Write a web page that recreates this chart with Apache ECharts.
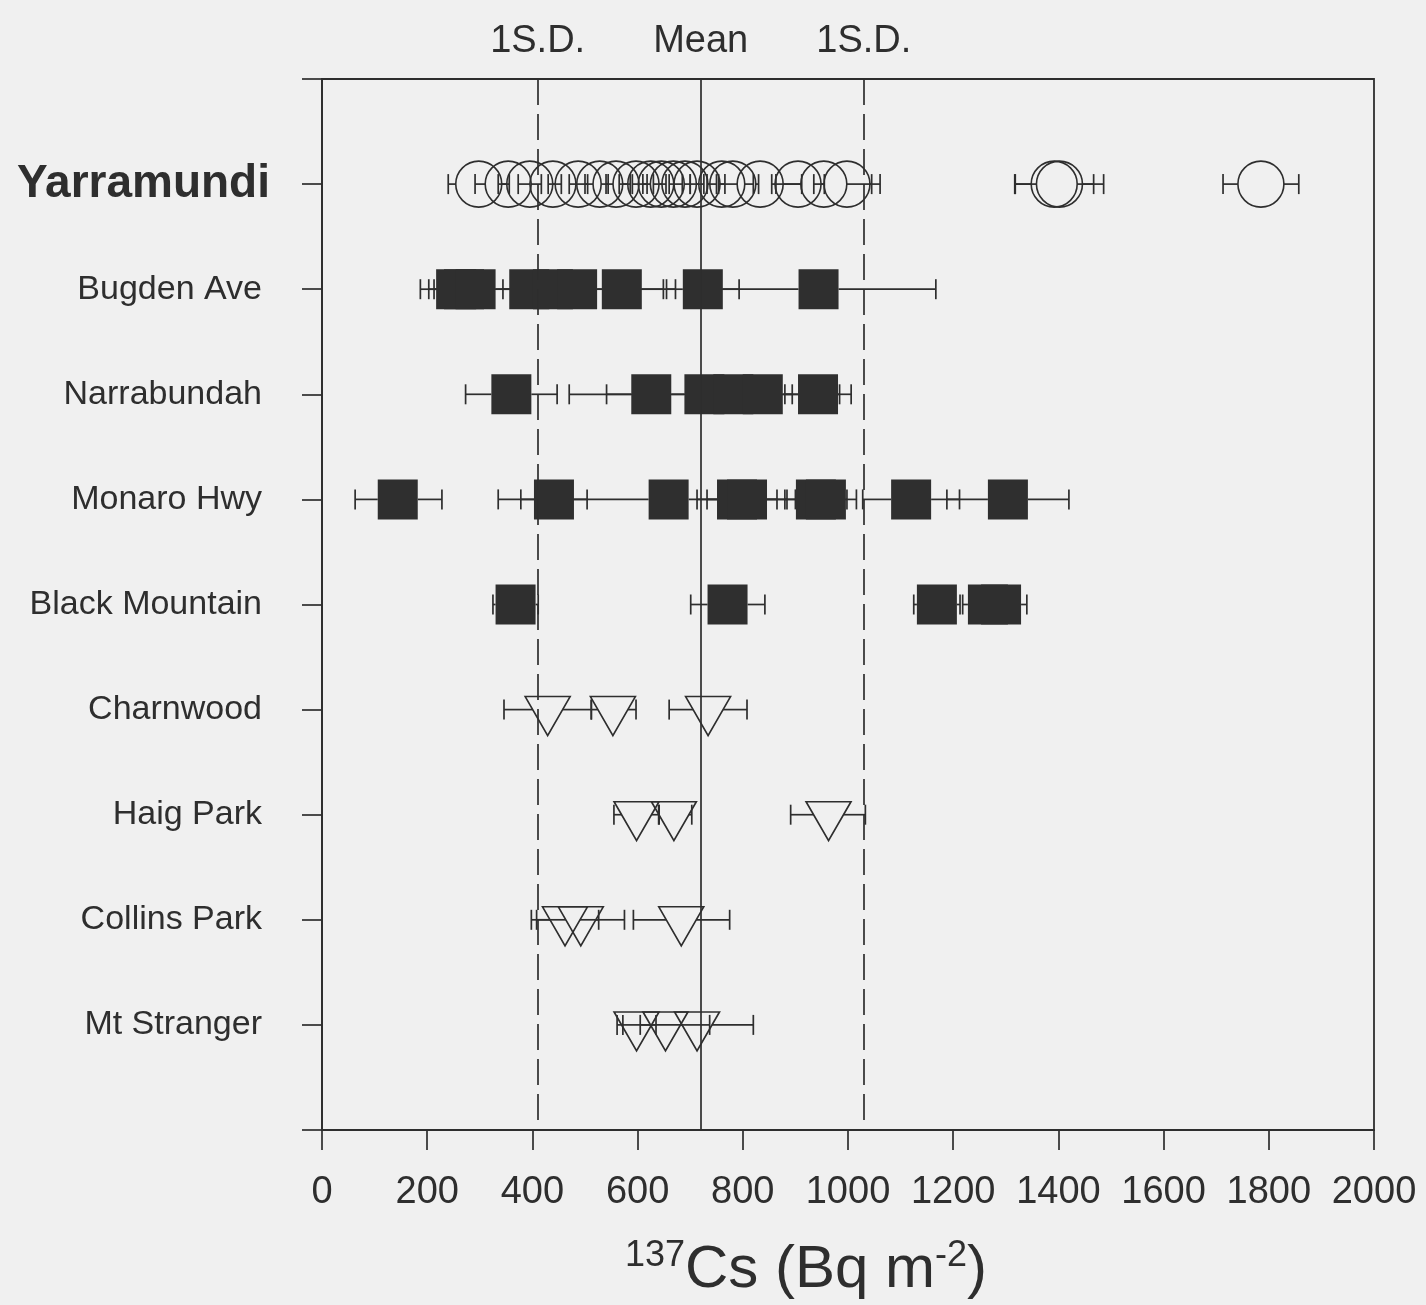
<html>
<head>
    <meta charset="utf-8">
    <title>137Cs by site</title>
    <script src="https://cdn.jsdelivr.net/npm/echarts@6/dist/echarts.min.js"></script>
</head>
<body style="margin:0;background:#f0f0f0;">
    <div id="main" style="width: 1426px;height:1305px;"></div>
    <script type="text/javascript">
        // sites, top to bottom
        var sites = ['Yarramundi', 'Bugden Ave', 'Narrabundah', 'Monaro Hwy', 'Black Mountain',
                     'Charnwood', 'Haig Park', 'Collins Park', 'Mt Stranger'];
        var shapes = ['circle', 'square', 'square', 'square', 'square',
                      'triangle', 'triangle', 'triangle', 'triangle'];

        // [value, low, high]  (Bq m-2)
        var yarramundi = [[298, 240, 356], [354, 291, 417], [395, 335, 455], [439, 373, 505],
            [487, 430, 544], [528, 470, 586], [559, 500, 618], [597, 540, 654], [625, 565, 685],
            [645, 590, 700], [668, 610, 726], [690, 630, 750], [713, 660, 766], [760, 700, 820],
            [781, 732, 830], [833, 754, 912], [905, 855, 955], [954, 863, 1045], [998, 935, 1061],
            [1392, 1317, 1467], [1402, 1318, 1486], [1785, 1713, 1857]];
        var bugdenAve = [[255, 187, 323], [270, 213, 327], [292, 203, 381], [394, 344, 444],
            [439, 389, 489], [485, 298, 672], [570, 491, 649], [724, 655, 793], [944, 721, 1167]];
        var narrabundah = [[360, 273, 447], [626, 541, 711], [727, 470, 984], [782, 717, 847],
            [838, 782, 894], [943, 880, 1006]];
        var monaroHwy = [[144, 63, 228], [441, 378, 504], [659, 335, 983], [789, 713, 865],
            [808, 732, 884], [939, 880, 998], [958, 900, 1016], [1120, 1028, 1212], [1304, 1188, 1420]];
        var blackMountain = [[368, 325, 411], [771, 701, 842], [1169, 1125, 1213],
            [1266, 1218, 1314], [1291, 1242, 1340]];
        var charnwood = [[429, 346, 512], [553, 512, 597], [734, 660, 808]];
        var haigPark = [[598, 555, 641], [669, 640, 703], [963, 891, 1033]];
        var collinsPark = [[462, 398, 526], [492, 408, 575], [683, 592, 775]];
        var mtStranger = [[598, 561, 635], [653, 572, 737], [713, 605, 820]];

        var siteData = [yarramundi, bugdenAve, narrabundah, monaroHwy, blackMountain,
                        charnwood, haigPark, collinsPark, mtStranger];

        var mean = 720;
        var sdLow = 410;
        var sdHigh = 1030;
        var xTicks = [0, 2000, 200];

        var ink = '#2e2e2e';
        var font = 'Liberation Sans';
        // half width of each marker at the error bar level (px)
        var halfW = { circle: 23, square: 20, triangle: 15 };

        // build series data
        var bars = [], circles = [], squares = [], triangles = [];
        siteData.forEach(function (pts, i) {
            var y = sites.length - i;
            pts.forEach(function (p) {
                bars.push([y, p[0], p[1], p[2], i]);
                var d = [p[0], y];
                if (shapes[i] === 'circle') circles.push(d);
                else if (shapes[i] === 'square') squares.push(d);
                else triangles.push(d);
            });
        });

        var myChart = echarts.init(document.getElementById('main'));

        function renderBar(params, api) {
            var y = api.value(0);
            var c = api.coord([api.value(1), y]);
            var lo = api.coord([api.value(2), y]);
            var hi = api.coord([api.value(3), y]);
            var hw = halfW[shapes[api.value(4)]];
            var st = { stroke: ink, lineWidth: 1.7 };
            var kids = [];
            if (lo[0] < c[0] - hw) {
                kids.push({ type: 'line', shape: { x1: lo[0], y1: c[1], x2: c[0] - hw, y2: c[1] }, style: st });
            }
            if (hi[0] > c[0] + hw) {
                kids.push({ type: 'line', shape: { x1: c[0] + hw, y1: c[1], x2: hi[0], y2: c[1] }, style: st });
            }
            kids.push({ type: 'line', shape: { x1: lo[0], y1: c[1] - 10, x2: lo[0], y2: c[1] + 10 }, style: st });
            kids.push({ type: 'line', shape: { x1: hi[0], y1: c[1] - 10, x2: hi[0], y2: c[1] + 10 }, style: st });
            return { type: 'group', children: kids };
        }

        // drawn from the top down so the dash pattern starts at the frame
        function vline(x, name, dashed) {
            var style = { color: ink, width: 1.7, type: dashed ? [26, 9] : 'solid' };
            return [
                { coord: [x, 10], lineStyle: style, label: { formatter: name } },
                { coord: [x, 0] }
            ];
        }

        var option = {
            backgroundColor: '#f0f0f0',
            animation: false,
            grid: {
                left: 322, right: 52, top: 79, bottom: 175,
                outerBoundsMode: 'none',
                containLabel: false,
                show: true, borderColor: ink, borderWidth: 1.8, backgroundColor: 'transparent'
            },
            xAxis: {
                type: 'value',
                min: xTicks[0], max: xTicks[1], interval: xTicks[2],
                axisLine: { lineStyle: { color: ink, width: 1.8 } },
                axisTick: { length: 20, lineStyle: { color: ink, width: 1.7 } },
                splitLine: { show: false },
                axisLabel: {
                    fontSize: 38, color: ink, fontFamily: font, margin: 44,
                    formatter: function (v) { return String(v); }
                },
                name: '{sup|137}{n|Cs (Bq m}{sup|-2}{n|)}',
                nameLocation: 'middle',
                nameGap: 108,
                nameTextStyle: {
                    padding: [0, 84, 0, 0],
                    rich: {
                        n: { fontSize: 60, color: ink, fontFamily: font },
                        sup: { fontSize: 36, color: ink, fontFamily: font, padding: [0, 0, 28, 0] }
                    }
                }
            },
            yAxis: {
                type: 'value',
                min: 0, max: 10, interval: 1,
                axisLine: { lineStyle: { color: ink, width: 1.8 } },
                axisTick: { length: 20, lineStyle: { color: ink, width: 1.7 } },
                splitLine: { show: false },
                axisLabel: {
                    margin: 52,
                    color: ink, fontFamily: font,
                    formatter: function (v) {
                        var name = sites[sites.length - v];
                        if (v < 1 || v > sites.length || !name) return '';
                        return v === sites.length ? '{big|' + name + '}' : '{n|' + name + '}';
                    },
                    rich: {
                        big: { fontSize: 46, fontWeight: 'bold', color: ink, fontFamily: font },
                        n: { fontSize: 34, color: ink, fontFamily: font, padding: [0, 8, 0, 0] }
                    }
                }
            },
            series: [
                {
                    name: 'error',
                    type: 'custom',
                    renderItem: renderBar,
                    data: bars,
                    encode: { x: [1, 2, 3], y: 0 },
                    z: 2,
                    markLine: {
                        silent: true,
                        symbol: 'none',
                        label: {
                            position: 'start', distance: 18,
                            fontSize: 38, color: ink, fontFamily: font
                        },
                        data: [vline(sdLow, '1S.D.', true), vline(mean, 'Mean', false), vline(sdHigh, '1S.D.', true)]
                    }
                },
                {
                    name: 'circles',
                    type: 'scatter',
                    data: circles,
                    symbol: 'circle',
                    symbolSize: 46,
                    itemStyle: { color: 'transparent', borderColor: ink, borderWidth: 1.6, opacity: 1 },
                    z: 3
                },
                {
                    name: 'squares',
                    type: 'scatter',
                    data: squares,
                    symbol: 'rect',
                    symbolSize: 40,
                    itemStyle: { color: '#2f2f2f', opacity: 1 },
                    z: 3
                },
                {
                    name: 'triangles',
                    type: 'scatter',
                    data: triangles,
                    symbol: 'path://M0,0L45,0L22.5,39Z',
                    symbolSize: [45, 39],
                    symbolOffset: [0, 6.5],
                    itemStyle: { color: 'transparent', borderColor: ink, borderWidth: 1.6, opacity: 1 },
                    z: 3
                }
            ]
        };
        myChart.setOption(option);
    </script>
</body>
</html>
